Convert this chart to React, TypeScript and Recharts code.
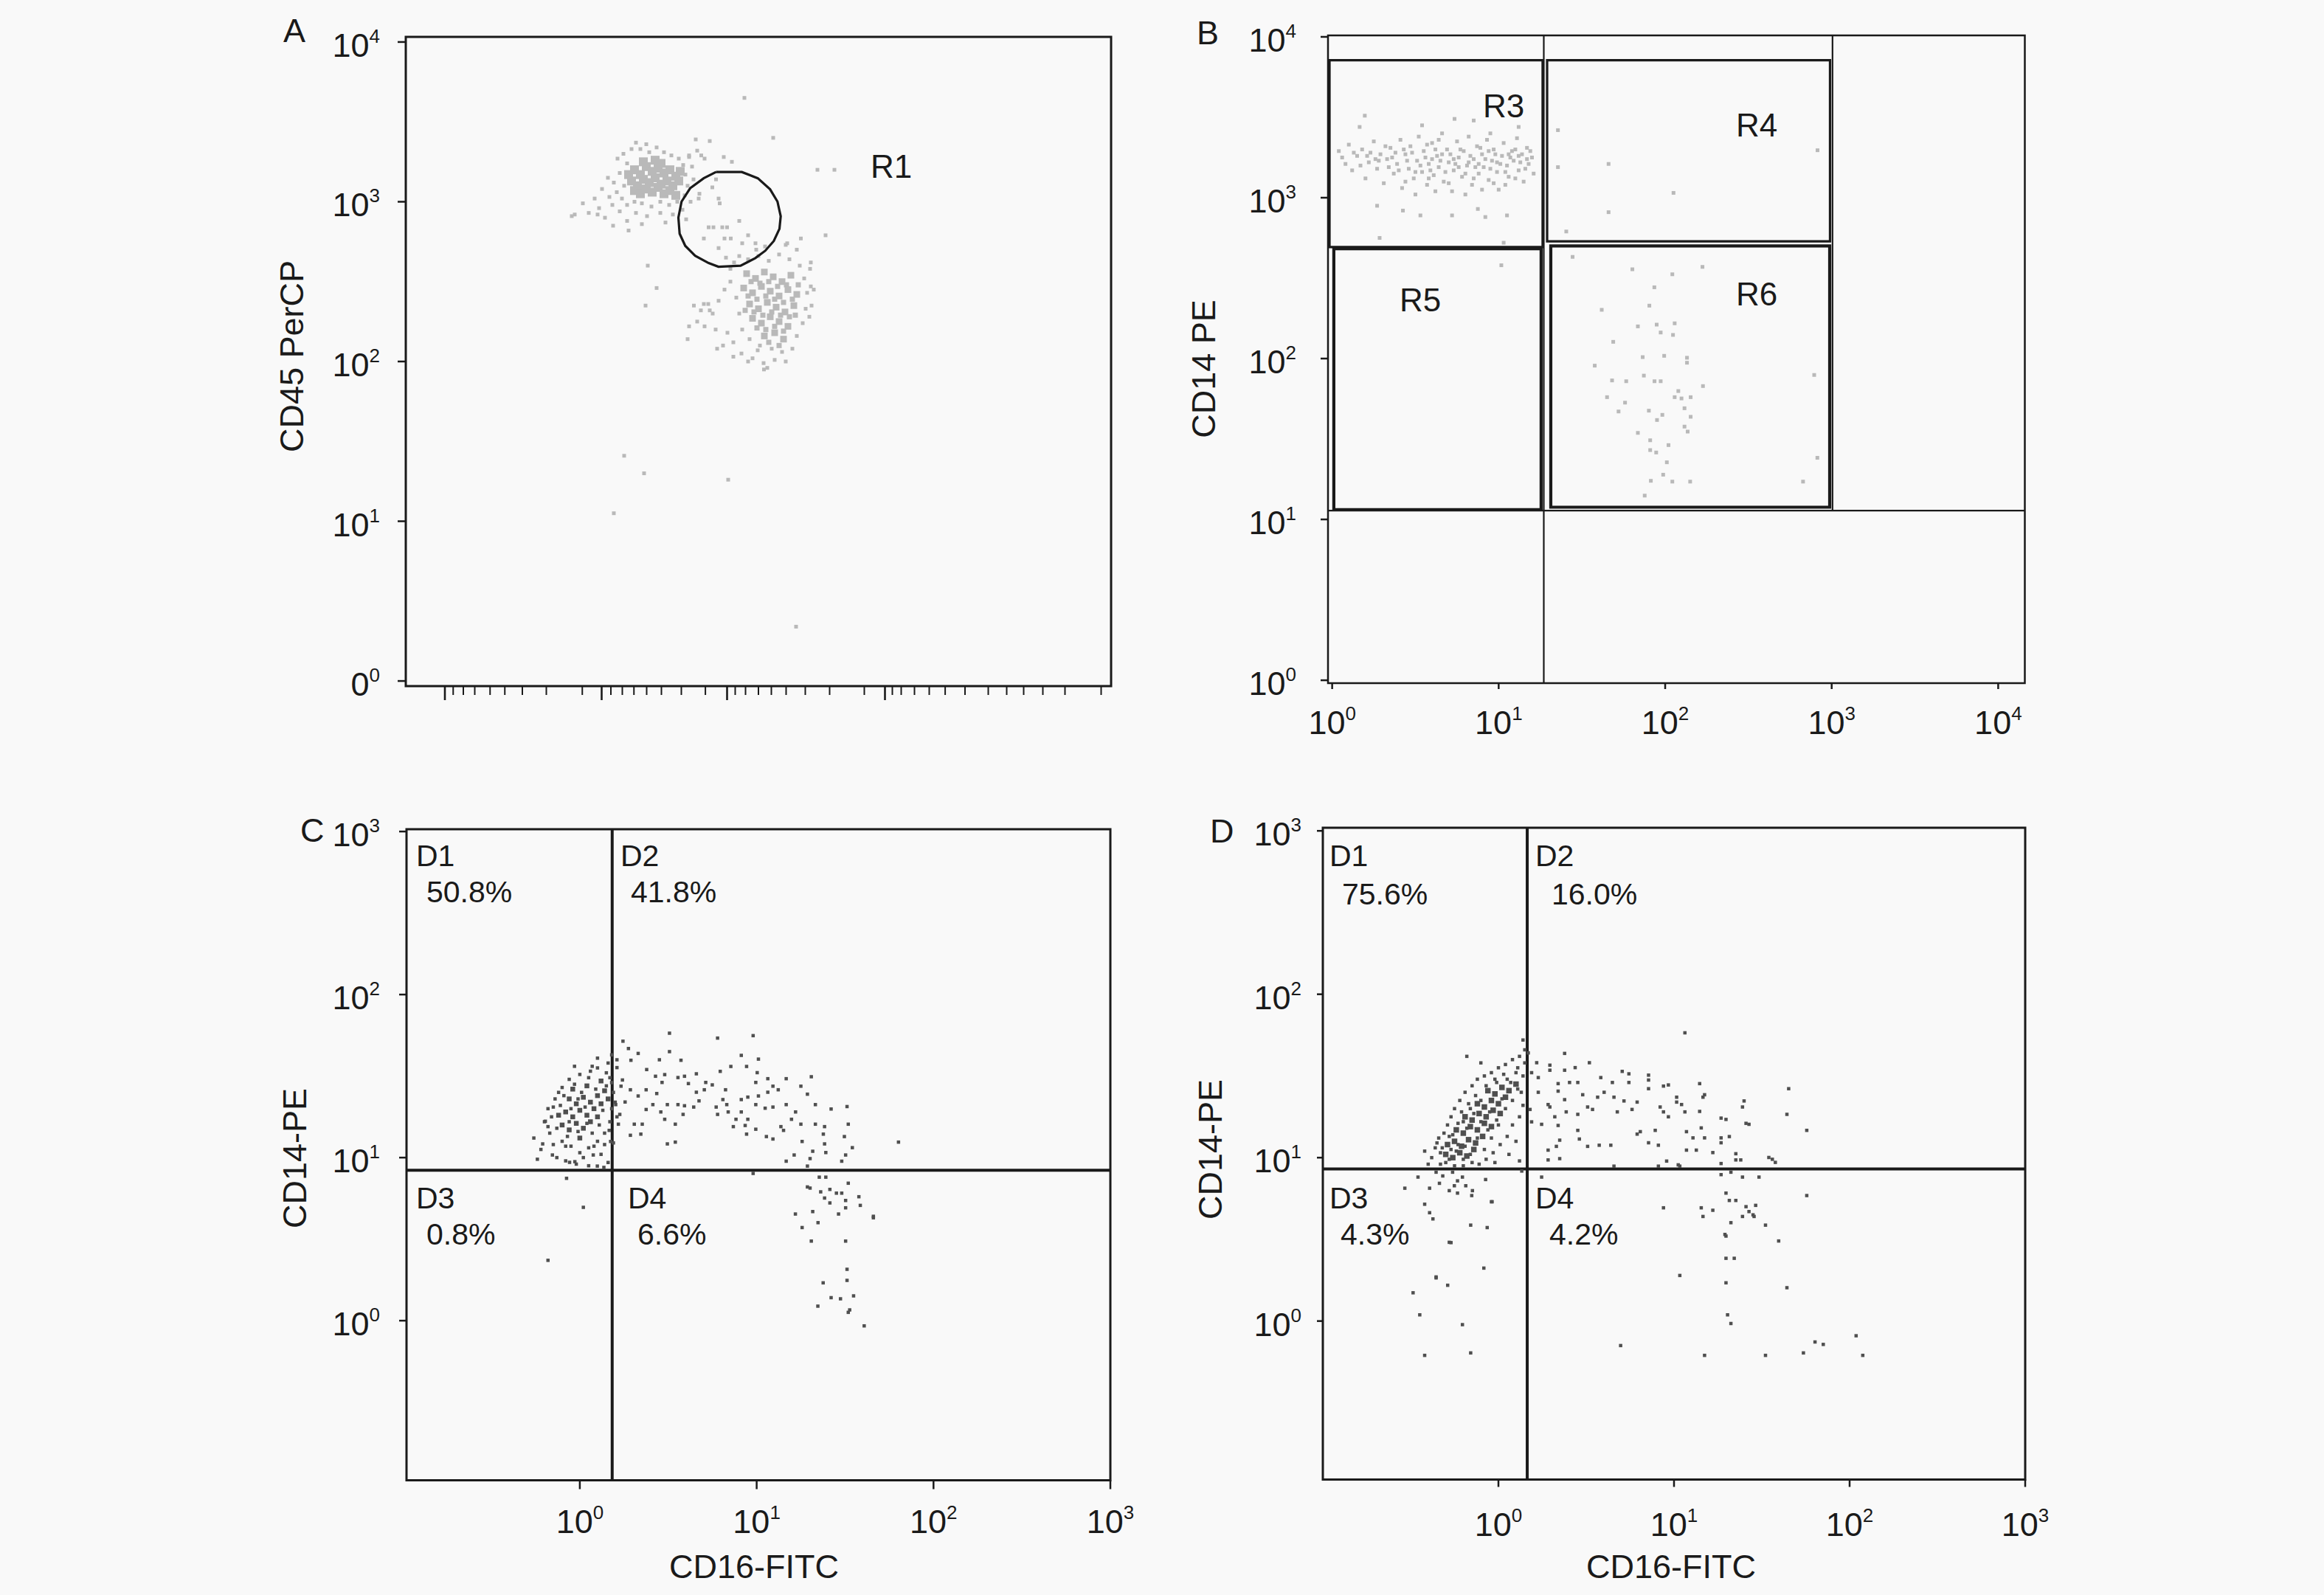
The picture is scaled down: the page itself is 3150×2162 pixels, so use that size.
import React from 'react';
import { ScatterChart, Scatter, XAxis, YAxis, ReferenceArea, ReferenceLine } from 'recharts';

const FONT = '"Liberation Sans", Arial, sans-serif';
const INK = '#1a1a1a';
const LIGHT = '#b9b9b9';
const DARK = '#4f4f4f';

type P = [number, number];
const pts = (a: P[]) => a.map(([x, y]) => ({ x, y }));

// ---------------- Panel A (x: channel units, y: log10 CD45 PerCP) ----------------
const aYTicks = [0, 1, 2, 3, 4];
const aYTickLabels: Record<number, [string, string]> = { 0: ['0', '0'], 1: ['10', '1'], 2: ['10', '2'], 3: ['10', '3'], 4: ['10', '4'] };
const aXMajorTicks = [53, 265.5, 435.5, 649.5];
const aXMinorTicks = [64.25, 78, 93.5, 114.25, 134.25, 158, 190.5, 239.25, 278, 293.5, 309.25, 326.5, 346.5, 373.5, 406.1, 446.5, 460.5, 478, 495.5, 515.5, 541.5, 574.5, 621.5, 659.5, 671.5, 689.5, 709.5, 731.1, 758, 789.5, 814.5, 837.5, 863.5, 893.5, 942.5];

const aCore1: P[] = [[310,3.20],[318,3.17],[326,3.22],[334,3.19],[342,3.21],[350,3.18],[358,3.20],[366,3.16],[306,3.13],[314,3.10],[322,3.14],[330,3.12],[338,3.15],[346,3.11],[354,3.13],[362,3.10],[370,3.13],[310,3.07],[318,3.05],[326,3.08],[334,3.06],[342,3.09],[350,3.05],[358,3.07],[366,3.04],[322,3.25],[338,3.26],[346,3.24],[302,3.17],[372,3.19]];
const aHalo1: P[] = [[287,3.27],[295,3.30],[300,3.24],[290,3.18],[282,3.12],[286,3.06],[293,3.02],[300,2.98],[310,3.00],[320,2.99],[333,2.97],[345,3.00],[357,2.98],[368,3.00],[378,3.04],[382,3.10],[379,3.17],[376,3.23],[370,3.27],[360,3.29],[350,3.31],[330,3.31],[318,3.33],[306,3.33],[312,3.37],[326,3.36],[340,3.34],[296,3.10],[274,3.15],[266,3.08],[276,3.03],[280,2.98],[262,2.96],[256,3.02],[290,2.94],[312,2.93],[327,2.91],[345,2.93],[362,2.92],[375,2.95],[386,3.00],[390,3.14],[388,3.22],[384,3.28],[395,3.32],[405,3.27],[398,3.05],[240,2.99],[248,2.93],[270,2.90],[300,2.88],[320,2.86],[352,2.87],[380,2.89]];
const aCore2: P[] = [[462,2.55],[474,2.52],[486,2.56],[498,2.53],[510,2.50],[522,2.54],[458,2.46],[470,2.43],[482,2.47],[494,2.44],[506,2.41],[518,2.45],[530,2.42],[466,2.36],[478,2.33],[490,2.37],[502,2.34],[514,2.31],[526,2.35],[470,2.27],[482,2.24],[494,2.28],[506,2.25],[518,2.22],[500,2.18],[486,2.16],[512,2.14]];
const aMid2: P[] = [[468,2.50],[480,2.49],[492,2.50],[504,2.47],[516,2.48],[464,2.41],[476,2.39],[488,2.41],[500,2.39],[512,2.37],[524,2.39],[472,2.31],[484,2.29],[496,2.31],[508,2.29],[520,2.28],[476,2.21],[488,2.20],[500,2.22],[512,2.19],[460,2.32],[532,2.48],[528,2.29],[492,2.12],[506,2.10]];
const aHalo2: P[] = [[445,2.62],[452,2.66],[464,2.64],[478,2.66],[492,2.63],[506,2.67],[520,2.64],[534,2.60],[540,2.52],[544,2.43],[542,2.33],[538,2.24],[530,2.16],[524,2.08],[510,2.06],[496,2.08],[480,2.10],[466,2.14],[456,2.20],[452,2.30],[448,2.40],[440,2.50],[432,2.45],[424,2.38],[416,2.30],[410,2.36],[400,2.32],[395,2.25],[405,2.22],[420,2.20],[436,2.18],[444,2.12],[430,2.10],[455,2.05],[470,2.02],[485,1.99],[490,1.96],[500,2.01],[515,2.00],[553,2.45],[550,2.35],[548,2.58],[530,2.70],[515,2.73],[456,2.74],[475,2.70],[440,2.58],[384,2.22],[382,2.14],[422,2.08],[444,2.03],[464,2.00],[485.5,1.95],[477,2.07],[547,2.28],[549,2.47],[549,2.62],[390.5,2.35],[404,2.36],[412,2.32]];
const aStray: P[] = [[225,2.91],[229,2.92],[260,2.92],[281,2.85],[302,2.82],[328,2.60],[340,2.46],[325,2.35],[459,3.65],[498,3.40],[558,3.20],[581,3.20],[569,2.79],[393,3.39],[412,3.38],[431,3.28],[442,3.25],[400.5,3.29],[384,3.29],[535.5,2.77],[517,2.74],[296,1.41],[323,1.30],[437,1.26],[282,1.05],[529,0.34],[420.5,3.14],[415.5,3.09],[397,3.02],[424,3.02],[425.5,2.99],[410.5,2.84],[417,2.84],[429,2.84],[435.5,2.84],[404,2.77],[432,2.77],[440.5,2.77],[452,2.88],[424,2.71],[464,2.79],[474,2.74],[487,2.72],[434,2.65]];
const aGateR1: P[] = [[420.5,3.186],[455.5,3.186],[477.2,3.147],[493.8,3.078],[503.8,3.001],[508.2,2.909],[506.5,2.831],[498.8,2.754],[487.2,2.693],[473.8,2.647],[453.8,2.600],[423.8,2.593],[410.5,2.616],[392.2,2.662],[378.8,2.724],[371.2,2.800],[369.5,2.901],[373.8,3.001],[385.5,3.085],[403.8,3.147],[420.5,3.186]];

// ---------------- Panel B (log10 CD16 vs log10 CD14 PE) ----------------
const bTicks = [0, 1, 2, 3, 4];
const bTickLabels: Record<number, [string, string]> = { 0: ['10', '0'], 1: ['10', '1'], 2: ['10', '2'], 3: ['10', '3'], 4: ['10', '4'] };
const bR3Cloud: P[] = [[0.04,3.29],[0.08,3.21],[0.10,3.33],[0.12,3.17],[0.15,3.26],[0.18,3.30],[0.20,3.12],[0.22,3.22],[0.25,3.35],[0.27,3.18],[0.29,3.27],[0.31,3.09],[0.33,3.24],[0.35,3.31],[0.37,3.15],[0.39,3.21],[0.41,3.36],[0.42,3.06],[0.44,3.27],[0.46,3.18],[0.47,3.32],[0.49,3.12],[0.51,3.23],[0.52,3.38],[0.54,3.16],[0.55,3.29],[0.57,3.08],[0.58,3.21],[0.60,3.34],[0.61,3.14],[0.63,3.26],[0.64,3.19],[0.66,3.40],[0.67,3.10],[0.69,3.30],[0.70,3.22],[0.72,3.04],[0.73,3.17],[0.75,3.35],[0.76,3.25],[0.78,3.13],[0.79,3.29],[0.81,3.20],[0.82,3.38],[0.84,3.08],[0.85,3.24],[0.87,3.32],[0.88,3.15],[0.90,3.27],[0.91,3.19],[0.93,3.36],[0.94,3.11],[0.96,3.23],[0.97,3.30],[0.99,3.16],[1.00,3.05],[1.02,3.26],[1.03,3.34],[1.05,3.20],[1.06,3.13],[1.08,3.29],[1.09,3.23],[1.11,3.37],[1.12,3.17],[1.14,3.27],[1.15,3.10],[1.17,3.31],[1.18,3.21],[1.20,3.25],[1.21,3.15],[0.06,3.25],[0.13,3.28],[0.17,3.20],[0.23,3.28],[0.28,3.23],[0.32,3.32],[0.36,3.25],[0.40,3.17],[0.45,3.23],[0.48,3.28],[0.53,3.20],[0.56,3.25],[0.59,3.17],[0.62,3.30],[0.65,3.23],[0.68,3.16],[0.71,3.27],[0.74,3.21],[0.77,3.30],[0.80,3.15],[0.83,3.26],[0.86,3.19],[0.89,3.31],[0.92,3.24],[0.95,3.18],[0.98,3.27],[1.01,3.21],[1.04,3.16],[1.07,3.25],[1.10,3.30],[1.13,3.22],[1.16,3.18],[1.19,3.29],[0.58,3.12],[0.70,3.09],[0.85,3.12],[0.97,3.09],[1.10,3.12],[0.64,3.36],[0.95,3.40],[0.44,3.10],[0.62,3.04],[0.80,3.02],[0.90,3.05],[1.04,3.08],[0.50,3.02],[0.26,3.24],[0.34,3.19],[0.43,3.30],[0.50,3.16],[0.57,3.33],[0.66,3.27],[0.73,3.24],[0.82,3.22],[0.88,3.21],[0.99,3.22],[1.06,3.27],[1.12,3.26],[1.17,3.24],[0.94,3.29],[0.76,3.19],[0.60,3.24],[0.38,3.28],[0.21,3.26]];
const bStray: P[] = [[0.196,3.51],[0.165,3.44],[0.27,2.95],[0.285,2.75],[0.425,2.92],[0.53,2.89],[0.72,2.89],[0.92,2.88],[1.05,2.89],[0.875,2.93],[1.12,3.44],[0.735,3.49],[0.85,3.48],[0.54,3.45],[1.03,2.72],[1.016,2.58],[1.356,3.42],[1.356,3.19],[1.66,3.21],[1.66,2.91],[2.05,3.03],[2.915,3.295],[1.406,2.79]];
const bR6Cloud: P[] = [[1.444,2.632],[1.803,2.555],[2.043,2.524],[2.224,2.570],[1.935,2.443],[1.905,2.329],[1.619,2.303],[1.836,2.200],[1.949,2.211],[2.057,2.219],[1.973,2.162],[2.047,2.147],[1.688,2.104],[1.865,2.009],[1.994,2.017],[2.131,2.005],[2.131,1.974],[1.577,1.956],[1.872,1.894],[1.936,1.859],[1.973,1.859],[1.681,1.864],[1.766,1.859],[2.227,1.829],[2.079,1.798],[2.057,1.760],[2.098,1.752],[2.153,1.760],[1.651,1.760],[1.759,1.726],[1.720,1.671],[2.116,1.691],[1.902,1.676],[1.983,1.650],[1.951,1.618],[2.153,1.638],[2.116,1.577],[2.135,1.546],[1.836,1.538],[1.910,1.492],[2.020,1.462],[1.910,1.431],[1.946,1.416],[2.010,1.355],[1.988,1.278],[1.914,1.240],[2.043,1.235],[2.150,1.235],[1.877,1.148],[2.895,1.898],[2.914,1.383],[2.828,1.235]];
const bGateR3 = { x1: -0.016, x2: 1.264, y1: 2.693, y2: 3.855 };
const bGateR4 = { x1: 1.291, x2: 2.99, y1: 2.729, y2: 3.855 };
const bGateR5 = { x1: 0.01, x2: 1.255, y1: 1.061, y2: 2.683 };
const bGateR6 = { x1: 1.313, x2: 2.988, y1: 1.076, y2: 2.70 };
const bSplitX = 1.271;
const bSplitY = 1.055;
const bEdgeX = 3.005;

// ---------------- Panels C and D (log10 CD16-FITC vs log10 CD14-PE) ----------------
const cdTicks = [0, 1, 2, 3];
const cdTickLabels: Record<number, [string, string]> = { 0: ['10', '0'], 1: ['10', '1'], 2: ['10', '2'], 3: ['10', '3'] };

const cCore: P[] = [[-0.06,1.36],[-0.02,1.33],[0.02,1.37],[0.06,1.34],[0.10,1.38],[0.14,1.41],[-0.08,1.28],[-0.04,1.25],[0.00,1.29],[0.04,1.26],[0.08,1.30],[0.12,1.33],[0.16,1.36],[-0.10,1.20],[-0.06,1.17],[-0.02,1.21],[0.02,1.18],[0.06,1.22],[0.10,1.25],[-0.04,1.42],[0.04,1.44],[0.12,1.47],[-0.12,1.26],[0.00,1.12]];
const cHalo: P[] = [[-0.20,1.22],[-0.17,1.15],[-0.15,1.08],[-0.18,1.30],[-0.14,1.36],[-0.10,1.43],[-0.06,1.48],[0.00,1.51],[0.06,1.53],[0.10,1.55],[0.15,1.52],[0.18,1.46],[0.19,1.40],[0.18,1.30],[0.17,1.22],[0.14,1.15],[0.10,1.10],[0.05,1.06],[0.00,1.03],[-0.05,1.07],[-0.10,1.10],[-0.13,1.00],[-0.08,0.98],[-0.02,0.96],[0.05,0.95],[0.12,1.02],[0.16,0.97],[-0.22,1.05],[-0.26,1.12],[-0.24,0.99],[0.16,1.58],[0.10,1.61],[0.18,1.63],[-0.03,1.56],[0.19,1.09],[-0.195,1.223],[-0.21,1.084],[-0.155,1.016],[-0.058,0.971],[-0.028,0.975],[0.076,1.016],[0.136,0.94],[0.099,0.948],[0.174,1.099],[0.166,1.167],[-0.16,1.25],[-0.13,1.18],[-0.11,1.32],[-0.09,1.38],[-0.07,1.13],[-0.05,1.30],[-0.03,1.45],[-0.01,1.16],[0.01,1.40],[0.03,1.31],[0.05,1.49],[0.07,1.15],[0.09,1.42],[0.11,1.20],[0.13,1.29],[0.15,1.44],[0.17,1.49],[0.08,1.07],[-0.12,1.40],[-0.15,1.31],[-0.08,1.07],[0.02,1.00],[0.14,1.08],[-0.18,1.19],[0.07,1.56],[0.20,1.34],[0.21,1.25],[-0.01,1.36],[0.04,1.21],[-0.06,1.22]];
const cSpread: P[] = [[0.244,1.714],[0.275,1.669],[0.33,1.639],[0.21,1.60],[0.289,1.597],[0.45,1.60],[0.507,1.763],[0.572,1.597],[0.507,1.65],[0.378,1.54],[0.428,1.499],[0.48,1.509],[0.555,1.491],[0.592,1.499],[0.659,1.514],[0.779,1.733],[0.913,1.627],[1.01,1.604],[0.98,1.748],[0.794,1.529],[0.854,1.559],[0.943,1.559],[1.003,1.521],[0.995,1.461],[1.063,1.484],[1.167,1.484],[1.309,1.496],[1.25,1.438],[1.287,1.389],[1.332,1.325],[1.421,1.298],[1.511,1.313],[1.518,1.205],[1.496,1.129],[1.541,1.061],[1.503,1.016],[1.481,0.978],[1.384,1.084],[1.391,1.031],[1.317,1.039],[1.302,0.994],[1.287,0.948],[1.212,1.016],[1.167,0.978],[1.257,1.099],[1.25,1.205],[1.332,1.205],[1.384,1.19],[1.377,1.144],[1.197,1.235],[1.22,1.28],[1.167,1.325],[1.137,1.19],[1.152,1.167],[1.092,1.114],[1.055,1.129],[0.995,1.174],[0.943,1.144],[0.935,1.197],[0.95,1.235],[0.913,1.28],[0.95,1.371],[0.913,1.356],[1.01,1.378],[0.995,1.325],[1.048,1.303],[1.092,1.438],[1.063,1.401],[0.883,1.235],[0.868,1.19],[0.839,1.28],[0.831,1.325],[0.809,1.356],[0.771,1.31],[0.712,1.461],[0.749,1.446],[0.674,1.348],[0.644,1.31],[0.584,1.265],[0.592,1.318],[0.555,1.325],[0.54,1.205],[0.495,1.325],[0.458,1.28],[0.413,1.325],[0.375,1.295],[0.353,1.205],[0.308,1.205],[0.286,1.137],[0.345,1.144],[0.375,1.416],[0.33,1.378],[0.286,1.416],[0.241,1.476],[0.256,1.341],[0.226,1.265],[0.233,1.438],[0.21,1.552],[0.203,1.325],[0.218,1.205],[0.435,1.393],[0.465,1.461],[0.495,1.084],[0.54,1.095],[0.48,1.235],[0.614,1.454],[0.659,1.401],[0.704,1.416],[0.824,1.416],[0.779,1.265],[1.092,1.31],[1.122,1.416],[0.98,0.903],[1.802,1.095]];
const cTail: P[] = [[1.354,0.88],[1.391,0.88],[1.287,0.82],[1.302,0.813],[1.362,0.79],[1.414,0.805],[1.451,0.782],[1.481,0.782],[1.518,0.843],[1.384,0.752],[1.414,0.722],[1.503,0.737],[1.578,0.76],[1.586,0.707],[1.503,0.692],[1.463,0.654],[1.317,0.669],[1.219,0.654],[1.347,0.601],[1.257,0.571],[1.66,0.631],[1.66,0.64],[1.309,0.488],[1.503,0.488],[1.511,0.315],[1.511,0.247],[1.376,0.232],[1.421,0.141],[1.474,0.134],[1.548,0.152],[1.346,0.089],[1.526,0.066],[1.518,0.051],[1.608,-0.032]];
const cStray: P[] = [[-0.18,0.37],[0.02,0.695],[-0.075,0.873]];
const cSplitX = 0.183;
const cSplitY = 0.922;

const dCore: P[] = [[-0.30,1.02],[-0.26,1.00],[-0.22,1.03],[-0.18,1.01],[-0.14,1.05],[-0.29,1.08],[-0.25,1.10],[-0.21,1.07],[-0.17,1.11],[-0.13,1.09],[-0.09,1.13],[-0.24,1.17],[-0.20,1.15],[-0.16,1.19],[-0.12,1.17],[-0.08,1.21],[-0.04,1.19],[-0.19,1.25],[-0.15,1.23],[-0.11,1.27],[-0.07,1.25],[-0.03,1.29],[0.01,1.27],[-0.12,1.33],[-0.08,1.31],[-0.04,1.35],[0.00,1.33],[0.04,1.37],[-0.06,1.41],[-0.02,1.39],[0.02,1.43],[0.06,1.41],[0.10,1.45]];
const dHalo: P[] = [[-0.38,1.00],[-0.36,1.06],[-0.34,1.12],[-0.33,0.96],[-0.31,1.15],[-0.29,1.20],[-0.27,1.25],[-0.25,1.30],[-0.22,1.35],[-0.19,1.40],[-0.15,1.44],[-0.12,1.48],[-0.08,1.50],[-0.04,1.52],[0.00,1.55],[0.04,1.57],[0.08,1.60],[0.12,1.62],[-0.10,1.58],[-0.18,1.62],[0.10,1.52],[0.13,1.40],[0.14,1.32],[0.12,1.25],[0.08,1.20],[0.05,1.13],[0.01,1.08],[-0.03,1.03],[-0.07,0.99],[-0.11,0.96],[-0.15,0.97],[-0.20,0.95],[-0.25,0.95],[0.10,1.10],[0.06,1.02],[0.12,0.98],[-0.02,0.97],[-0.40,0.96],[-0.42,1.04],[0.14,1.50],[0.15,1.58],[0.15,1.66],[0.14,1.72],[0.05,1.48],[-0.01,1.46],[-0.16,1.30],[-0.20,1.22],[-0.26,1.14],[-0.33,1.03],[-0.35,1.09],[-0.32,1.06],[-0.28,1.13],[-0.28,0.99],[-0.23,1.21],[-0.23,1.08],[-0.21,1.28],[-0.18,1.18],[-0.17,1.33],[-0.14,1.27],[-0.13,1.38],[-0.10,1.22],[-0.10,1.35],[-0.07,1.44],[-0.06,1.17],[-0.05,1.28],[-0.02,1.48],[-0.01,1.23],[0.02,1.36],[0.03,1.51],[0.04,1.30],[0.07,1.46],[0.08,1.35],[0.11,1.55],[0.11,1.42],[-0.24,1.04],[-0.19,1.07],[-0.16,1.02],[-0.12,1.12],[-0.08,1.05],[-0.04,1.12],[0.00,1.20],[-0.30,0.97],[-0.27,1.05],[-0.20,0.99]];
const dBelowLeft: P[] = [[-0.355,0.911],[-0.317,0.888],[-0.261,0.911],[-0.233,0.858],[-0.205,0.881],[-0.251,0.828],[-0.186,0.828],[-0.28,0.798],[-0.233,0.783],[-0.148,0.798],[-0.392,0.813],[-0.458,0.881],[-0.533,0.813],[-0.336,0.843],[-0.073,0.866],[-0.036,0.73],[-0.152,0.768],[-0.42,0.715],[-0.392,0.663],[-0.373,0.625],[-0.28,0.482],[-0.158,0.587],[-0.064,0.572],[-0.083,0.324],[-0.355,0.264],[-0.289,0.219],[-0.486,0.173],[-0.448,0.038],[-0.205,-0.022],[-0.42,-0.21],[-0.158,-0.195],[0.133,0.918],[-0.27,0.48],[-0.04,0.73],[-0.355,0.27]];
const dSpread: P[] = [[0.377,1.638],[0.518,1.581],[0.437,1.551],[0.293,1.566],[0.293,1.535],[0.377,1.535],[0.227,1.49],[0.34,1.453],[0.405,1.46],[0.452,1.46],[0.583,1.49],[0.705,1.528],[0.743,1.513],[0.855,1.505],[0.855,1.475],[0.649,1.46],[0.743,1.46],[0.855,1.422],[0.94,1.438],[0.968,1.445],[1.146,1.453],[0.34,1.407],[0.227,1.4],[0.283,1.325],[0.293,1.31],[0.377,1.355],[0.48,1.385],[0.565,1.37],[0.602,1.4],[0.658,1.37],[0.508,1.31],[0.536,1.295],[0.677,1.28],[0.715,1.347],[0.79,1.34],[0.761,1.295],[0.921,1.31],[0.94,1.28],[0.968,1.25],[1.015,1.37],[1.043,1.325],[1.062,1.28],[1.165,1.37],[1.174,1.385],[1.015,1.34],[0.321,1.25],[0.386,1.28],[0.452,1.265],[0.246,1.204],[0.34,1.197],[0.452,1.167],[0.461,1.114],[0.508,1.069],[0.574,1.076],[0.64,1.076],[0.349,1.107],[0.33,1.069],[0.283,1.046],[0.349,0.994],[0.283,0.986],[0.808,1.159],[0.79,1.144],[0.893,1.167],[0.855,1.091],[0.911,1.076],[0.958,0.979],[1.024,0.956],[1.071,1.159],[1.108,1.121],[1.155,1.182],[1.174,1.121],[1.071,1.046],[1.127,1.046],[1.221,1.031],[1.268,1.242],[1.296,1.234],[1.268,1.121],[1.268,1.091],[1.315,1.129],[1.352,1.024],[1.352,0.986],[1.38,0.986],[1.399,1.347],[1.39,1.31],[1.427,1.204],[1.54,1.001],[1.577,0.971],[1.653,1.422],[1.643,1.265],[1.756,1.167],[1.062,1.764],[1.146,1.283],[1.268,0.964],[0.658,0.948],[0.911,0.948],[1.033,0.948],[0.18,1.295],[0.189,1.219],[0.218,1.581],[0.189,1.52],[0.17,1.641],[1.56,0.99],[1.41,1.21]];
const dBelowRight: P[] = [[0.246,0.881],[1.268,0.896],[1.324,0.911],[1.39,0.881],[1.484,0.881],[1.296,0.783],[1.315,0.738],[1.352,0.738],[1.465,0.708],[1.427,0.67],[1.39,0.64],[1.456,0.64],[1.756,0.768],[0.94,0.693],[1.155,0.693],[1.221,0.678],[1.165,0.64],[1.324,0.602],[1.521,0.587],[1.596,0.49],[1.296,0.52],[1.296,0.384],[1.343,0.384],[1.033,0.279],[1.296,0.234],[1.643,0.204],[1.305,0.038],[1.324,-0.015],[0.696,-0.15],[1.174,-0.21],[1.521,-0.21],[1.737,-0.195],[1.803,-0.128],[1.85,-0.143],[2.037,-0.09],[2.075,-0.21],[1.29,0.53],[1.41,0.70],[1.45,0.65]];
const dSplitX = 0.164;
const dSplitY = 0.931;

const panelLetters = ['A', 'B', 'C', 'D'];
const gateNames = ['R1', 'R3', 'R4', 'R5', 'R6'];
const quadNames = ['D1', 'D2', 'D3', 'D4'];
const cPercents = ['50.8%', '41.8%', '0.8%', '6.6%'];
const dPercents = ['75.6%', '16.0%', '4.3%', '4.2%'];
const yTitles = ['CD45 PerCP', 'CD14 PE', 'CD14-PE', 'CD14-PE'];
const xTitle = 'CD16-FITC';

// ---------------- layout ----------------
const LAYOUT = {
  A: [549.5, 50, 1505.5, 930],
  B: [1800, 48, 2744.5, 926],
  C: [551, 1123.5, 1505, 2006],
  D: [1793, 1121.5, 2745, 2005],
};
// [name x, name baseline, value x, value baseline] for quadrant labels
const C_QUAD_POS = [[564, 1174, 578, 1223], [841, 1174, 855, 1223], [564, 1638, 578, 1687], [851, 1638, 864, 1687]];
const D_QUAD_POS = [[1802, 1174, 1819, 1226], [2081, 1174, 2103, 1226], [1802, 1638, 1817, 1687], [2081, 1638, 2100, 1687]];

const square = (size: number, fill: string) => (props: any) => {
  const { cx, cy } = props;
  if (cx == null || cy == null) return <g />;
  return <rect x={cx - size / 2} y={cy - size / 2} width={size} height={size} fill={fill} />;
};
const noShape = () => <g />;

const makeYTick = (labels: Record<number, [string, string]>) => (props: any) => {
  const { x, y, payload } = props;
  const lab = labels[payload.value];
  if (!lab) return <g />;
  return (
    <text x={x} y={y + 20} textAnchor="end" fontFamily={FONT} fontSize={45} fill={INK}>
      <tspan>{lab[0]}</tspan>
      <tspan dy={-19} fontSize={26}>{lab[1]}</tspan>
    </text>
  );
};

const makeXTick = (labels: Record<number, [string, string]>, dy: number) => (props: any) => {
  const { x, y, payload } = props;
  const lab = labels[payload.value];
  if (!lab) return <g />;
  return (
    <text x={x} y={y + dy} textAnchor="middle" fontFamily={FONT} fontSize={45} fill={INK}>
      <tspan>{lab[0]}</tspan>
      <tspan dy={-19} fontSize={26}>{lab[1]}</tspan>
    </text>
  );
};

const aXTick = (props: any) => {
  const { x, y, payload } = props;
  const major = aXMajorTicks.includes(payload.value);
  return <line x1={x} x2={x} y1={y} y2={y + (major ? 19 : 12)} stroke={INK} strokeWidth={major ? 2.6 : 2} />;
};

type PanelProps = {
  box: number[];
  xDomain: [number, number];
  yDomain: [number, number];
  xTicks: number[];
  yTicks: number[];
  xTick: any;
  yTick: any;
  xTickSize: number;
  yTickSize: number;
  yTickMargin: number;
  frameWidth: number;
  children?: React.ReactNode;
};

function Panel(p: PanelProps) {
  const [L, T, R, B] = p.box;
  const W = R - L + 250 + 40;
  const H = B - T + 60 + 150;
  return (
    <div style={{ position: 'absolute', left: L - 250, top: T - 60, width: W, height: H }}>
      <ScatterChart width={W} height={H} margin={{ top: 60, right: 40, bottom: 0, left: 0 }}>
        <XAxis
          type="number"
          dataKey="x"
          domain={p.xDomain}
          ticks={p.xTicks}
          allowDataOverflow
          interval={0}
          height={150}
          axisLine={false}
          tickLine={p.xTickSize > 0 ? { stroke: INK, strokeWidth: 2.5 } : false}
          tickSize={p.xTickSize}
          tickMargin={0}
          tick={p.xTick}
        />
        <YAxis
          type="number"
          dataKey="y"
          domain={p.yDomain}
          ticks={p.yTicks}
          allowDataOverflow
          interval={0}
          width={250}
          axisLine={false}
          tickLine={{ stroke: INK, strokeWidth: 2.5 }}
          tickSize={p.yTickSize}
          tickMargin={p.yTickMargin}
          tick={p.yTick}
        />
        {p.children}
        <ReferenceArea
          x1={p.xDomain[0]}
          x2={p.xDomain[1]}
          y1={p.yDomain[0]}
          y2={p.yDomain[1]}
          fill="none"
          fillOpacity={0}
          stroke={INK}
          strokeWidth={p.frameWidth}
          ifOverflow="visible"
        />
      </ScatterChart>
    </div>
  );
}

const txt = (t: string, x: number, y: number, size = 45) => (
  <text key={t + x + y} x={x} y={y} fontFamily={FONT} fontSize={size} fill={INK}>{t}</text>
);
const vtxt = (t: string, x: number, y: number, size = 45) => (
  <text key={t + x + y} x={x} y={y} fontFamily={FONT} fontSize={size} fill={INK} textAnchor="middle" transform={`rotate(-90 ${x} ${y})`}>{t}</text>
);
const quadLabel = (name: string, value: string, pos: number[], k: string) => (
  <g key={k}>
    <text x={pos[0]} y={pos[1]} fontFamily={FONT} fontSize={41} fill={INK}>{name}</text>
    <text x={pos[2]} y={pos[3]} fontFamily={FONT} fontSize={41} fill={INK}>{value}</text>
  </g>
);

export default function App() {
  const gateStroke = { stroke: INK, fill: 'none', fillOpacity: 0, ifOverflow: 'visible' as const };
  return (
    <div>
      <div style={{ position: 'absolute', left: 0, top: 0, width: 3150, height: 2162, background: '#f9f9f9' }} />

      {/* Panel A */}
      <Panel
        box={LAYOUT.A}
        xDomain={[0, 956]}
        yDomain={[-0.032, 4.032]}
        xTicks={[...aXMajorTicks, ...aXMinorTicks]}
        yTicks={aYTicks}
        xTick={aXTick}
        yTick={makeYTick(aYTickLabels)}
        xTickSize={0}
        yTickSize={11}
        yTickMargin={24}
        frameWidth={3}
      >
        <Scatter data={pts(aHalo1)} shape={square(5, LIGHT)} isAnimationActive={false} />
        <Scatter data={pts(aCore1)} shape={square(12, LIGHT)} isAnimationActive={false} />
        <Scatter data={pts(aHalo2)} shape={square(5, LIGHT)} isAnimationActive={false} />
        <Scatter data={pts(aMid2)} shape={square(7, LIGHT)} isAnimationActive={false} />
        <Scatter data={pts(aCore2)} shape={square(9, LIGHT)} isAnimationActive={false} />
        <Scatter data={pts(aStray)} shape={square(5, LIGHT)} isAnimationActive={false} />
        <Scatter data={pts(aGateR1)} shape={noShape} line={{ stroke: INK, strokeWidth: 3.2 }} isAnimationActive={false} />
      </Panel>

      {/* Panel B */}
      <Panel
        box={LAYOUT.B}
        xDomain={[-0.025, 4.16]}
        yDomain={[-0.018, 4.009]}
        xTicks={bTicks}
        yTicks={bTicks}
        xTick={makeXTick(bTickLabels, 61)}
        yTick={makeYTick(bTickLabels)}
        xTickSize={8}
        yTickSize={10}
        yTickMargin={33}
        frameWidth={2.5}
      >
        <Scatter data={pts(bR3Cloud)} shape={square(5, LIGHT)} isAnimationActive={false} />
        <Scatter data={pts(bStray)} shape={square(5, LIGHT)} isAnimationActive={false} />
        <Scatter data={pts(bR6Cloud)} shape={square(5, LIGHT)} isAnimationActive={false} />
        <ReferenceLine x={bSplitX} stroke={INK} strokeWidth={2.2} ifOverflow="visible" />
        <ReferenceLine y={bSplitY} stroke={INK} strokeWidth={2.2} ifOverflow="visible" />
        <ReferenceLine segment={[{ x: bEdgeX, y: bSplitY }, { x: bEdgeX, y: 4.009 }]} stroke={INK} strokeWidth={2.2} ifOverflow="visible" />
        <ReferenceArea {...bGateR3} {...gateStroke} strokeWidth={3.2} />
        <ReferenceArea {...bGateR4} {...gateStroke} strokeWidth={3.2} />
        <ReferenceArea {...bGateR5} {...gateStroke} strokeWidth={4.2} />
        <ReferenceArea {...bGateR6} {...gateStroke} strokeWidth={4.2} />
      </Panel>

      {/* Panel C */}
      <Panel
        box={LAYOUT.C}
        xDomain={[-0.98, 3.0]}
        yDomain={[-0.979, 3.014]}
        xTicks={cdTicks}
        yTicks={cdTicks}
        xTick={makeXTick(cdTickLabels, 59)}
        yTick={makeYTick(cdTickLabels)}
        xTickSize={12}
        yTickSize={10}
        yTickMargin={26}
        frameWidth={3}
      >
        <Scatter data={pts(cHalo)} shape={square(4.5, DARK)} isAnimationActive={false} />
        <Scatter data={pts(cCore)} shape={square(6.5, DARK)} isAnimationActive={false} />
        <Scatter data={pts(cSpread)} shape={square(4.5, DARK)} isAnimationActive={false} />
        <Scatter data={pts(cTail)} shape={square(4.5, DARK)} isAnimationActive={false} />
        <Scatter data={pts(cStray)} shape={square(4.5, DARK)} isAnimationActive={false} />
        <ReferenceLine x={cSplitX} stroke={INK} strokeWidth={4} ifOverflow="visible" />
        <ReferenceLine y={cSplitY} stroke={INK} strokeWidth={4} ifOverflow="visible" />
      </Panel>

      {/* Panel D */}
      <Panel
        box={LAYOUT.D}
        xDomain={[-1.0, 3.0]}
        yDomain={[-0.97, 3.019]}
        xTicks={cdTicks}
        yTicks={cdTicks}
        xTick={makeXTick(cdTickLabels, 66)}
        yTick={makeYTick(cdTickLabels)}
        xTickSize={10}
        yTickSize={8}
        yTickMargin={21}
        frameWidth={3}
      >
        <Scatter data={pts(dHalo)} shape={square(4.5, DARK)} isAnimationActive={false} />
        <Scatter data={pts(dCore)} shape={square(7.5, DARK)} isAnimationActive={false} />
        <Scatter data={pts(dBelowLeft)} shape={square(4.5, DARK)} isAnimationActive={false} />
        <Scatter data={pts(dSpread)} shape={square(4.5, DARK)} isAnimationActive={false} />
        <Scatter data={pts(dBelowRight)} shape={square(4.5, DARK)} isAnimationActive={false} />
        <ReferenceLine x={dSplitX} stroke={INK} strokeWidth={4} ifOverflow="visible" />
        <ReferenceLine y={dSplitY} stroke={INK} strokeWidth={4} ifOverflow="visible" />
      </Panel>

      {/* annotations */}
      <svg width={3150} height={2162} style={{ position: 'absolute', left: 0, top: 0, pointerEvents: 'none' }}>
        {txt(panelLetters[0], 384, 57)}
        {txt(panelLetters[1], 1622, 60)}
        {txt(panelLetters[2], 407, 1141)}
        {txt(panelLetters[3], 1640, 1142)}

        {txt(gateNames[0], 1180, 241, 44)}
        {txt(gateNames[1], 2010, 159, 44)}
        {txt(gateNames[2], 2353, 185, 44)}
        {txt(gateNames[3], 1897, 422, 44)}
        {txt(gateNames[4], 2353, 414, 44)}

        {quadNames.map((n, i) => quadLabel(n, cPercents[i], C_QUAD_POS[i], 'c' + i))}
        {quadNames.map((n, i) => quadLabel(n, dPercents[i], D_QUAD_POS[i], 'd' + i))}

        {vtxt(yTitles[0], 411, 483)}
        {vtxt(yTitles[1], 1647, 500)}
        {vtxt(yTitles[2], 415, 1570)}
        {vtxt(yTitles[3], 1656, 1558)}

        <text x={1022} y={2139} fontFamily={FONT} fontSize={45} fill={INK} textAnchor="middle">{xTitle}</text>
        <text x={2265} y={2139} fontFamily={FONT} fontSize={45} fill={INK} textAnchor="middle">{xTitle}</text>
      </svg>
    </div>
  );
}
